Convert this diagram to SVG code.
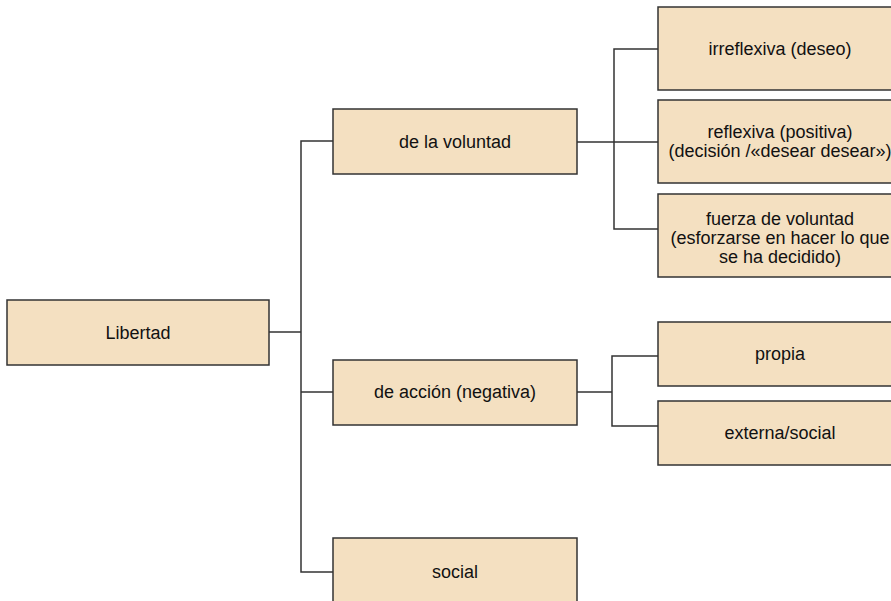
<svg xmlns="http://www.w3.org/2000/svg" width="891" height="601" viewBox="0 0 891 601">
<style>
.box{fill:#f4e0c1;stroke:#333;stroke-width:1.5}
.t{font-family:"Liberation Sans",Arial,sans-serif;font-size:18px;fill:#111;text-anchor:middle}
.c{fill:none;stroke:#333;stroke-width:1.5}
</style>
<rect width="891" height="601" fill="#fff"/>
<g id="connectors">
<path class="c" d="M269 332H301M333 141H301V572H333M301 392H333"/>
<path class="c" d="M577 142H614M658 49H614V229H658M614 142H658"/>
<path class="c" d="M577 392H612M658 356H612V426H658"/>
</g>
<g id="libertad"><rect class="box" x="7" y="300" width="262" height="65"/><text class="t" x="138" y="339">Libertad</text></g>
<g id="voluntad"><rect class="box" x="333" y="109" width="244" height="65"/><text class="t" x="455" y="148">de la voluntad</text></g>
<g id="accion"><rect class="box" x="333" y="360" width="244" height="65"/><text class="t" x="455" y="398">de acción (negativa)</text></g>
<g id="social"><rect class="box" x="333" y="538" width="244" height="70"/><text class="t" x="455" y="578">social</text></g>
<g id="irreflexiva"><rect class="box" x="658" y="7" width="244" height="83"/><text class="t" x="780" y="55">irreflexiva (deseo)</text></g>
<g id="reflexiva"><rect class="box" x="658" y="100" width="244" height="83"/><text class="t" x="780" y="138">reflexiva (positiva)</text><text class="t" x="780" y="157">(decisión /«desear desear»)</text></g>
<g id="fuerza"><rect class="box" x="658" y="194" width="244" height="83"/><text class="t" x="780" y="225">fuerza de voluntad</text><text class="t" x="780" y="244">(esforzarse en hacer lo que</text><text class="t" x="780" y="263">se ha decidido)</text></g>
<g id="propia"><rect class="box" x="658" y="322" width="244" height="64"/><text class="t" x="780" y="360">propia</text></g>
<g id="externa"><rect class="box" x="658" y="401" width="244" height="64"/><text class="t" x="780" y="439">externa/social</text></g>
</svg>
